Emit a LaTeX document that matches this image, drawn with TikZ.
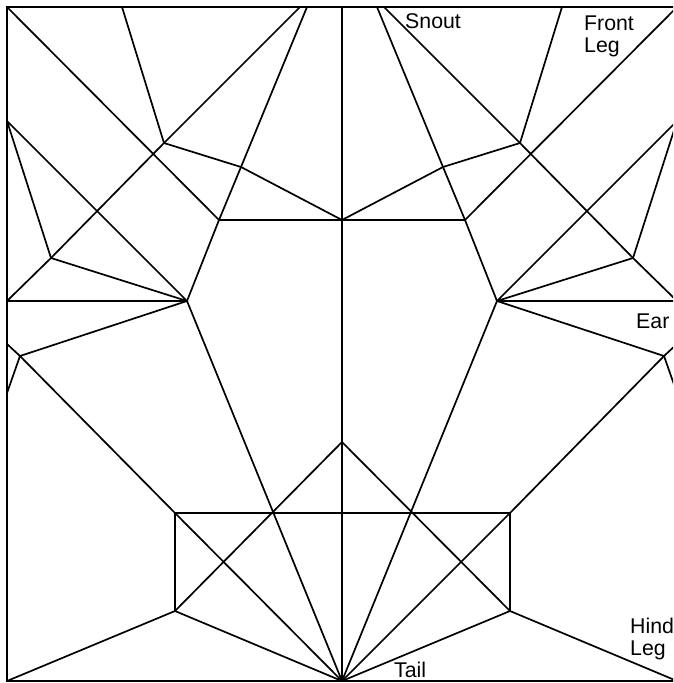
\documentclass[tikz,border=0pt]{standalone}
\usepackage{fontspec}
\setmainfont{Liberation Sans}
\begin{document}
\begin{tikzpicture}[x=1pt,y=-1pt,
  crease/.style={line width=1.7pt,black,line join=round},
  rim/.style={line width=2.2pt,black,line join=miter},
  lbl/.style={font=\fontsize{21.3}{22}\selectfont,align=left,inner sep=0pt,anchor=west}]
  \useasboundingbox (0,0) rectangle (673,683);
  \clip (0,0) rectangle (673,683);
  % sheet corners and the centre line
  \coordinate (tl) at (7,7);
  \coordinate (tr) at (677,7);
  \coordinate (bl) at (7,681);
  \coordinate (br) at (677,681);
  \coordinate (top) at (342,7);
  \coordinate (tail) at (342,681);
  % left half
  \coordinate (ta) at (122,7);
  \coordinate (tb) at (300,7);
  \coordinate (tc) at (307,7);
  \coordinate (la) at (7,121);
  \coordinate (lb) at (7,301);
  \coordinate (lc) at (7,344);
  \coordinate (ld) at (7,393);
  \coordinate (pa) at (164,143);
  \coordinate (pb) at (241,167);
  \coordinate (pc) at (219,220);
  \coordinate (pd) at (51,258);
  \coordinate (pe) at (187,301);
  \coordinate (pf) at (20,356);
  \coordinate (ra) at (175,513);
  \coordinate (rb) at (175,611);
  % right half
  \coordinate (tA) at (562,7);
  \coordinate (tB) at (384,7);
  \coordinate (tC) at (377,7);
  \coordinate (lA) at (677,121);
  \coordinate (lB) at (677,301);
  \coordinate (lC) at (677,344);
  \coordinate (lD) at (677,393);
  \coordinate (pA) at (520,143);
  \coordinate (pB) at (443,167);
  \coordinate (pC) at (465,220);
  \coordinate (pD) at (633,258);
  \coordinate (pE) at (497,301);
  \coordinate (pF) at (664,356);
  \coordinate (rA) at (510,513);
  \coordinate (rB) at (510,611);
  % middle
  \coordinate (mid) at (342,220);
  \coordinate (apex) at (342,442);
  \draw[rim] (br) -- (bl) -- (tl) -- (tr) -- cycle;
  \draw[rim] (top) -- (tail);
  % left creases
  \draw[crease] (tl) -- (pc) -- (mid) -- (pb) -- (pa) -- (ta);
  \draw[crease] (lb) -- (pd) -- (pa) -- (tb);
  \draw[crease] (tc) -- (pb) -- (pc) -- (pe) -- (tail);
  \draw[crease] (la) -- (pe) -- (pd) -- (la);
  \draw[crease] (lb) -- (pe) -- (pf) -- (ra) -- (tail);
  \draw[crease] (lc) -- (pf) -- (ld);
  % right creases
  \draw[crease] (tr) -- (pC) -- (mid) -- (pB) -- (pA) -- (tA);
  \draw[crease] (lB) -- (pD) -- (pA) -- (tB);
  \draw[crease] (tC) -- (pB) -- (pC) -- (pE) -- (tail);
  \draw[crease] (lA) -- (pE) -- (pD) -- (lA);
  \draw[crease] (lB) -- (pE) -- (pF) -- (rA) -- (tail);
  \draw[crease] (lC) -- (pF) -- (lD);
  % tail box
  \draw[crease] (rb) -- (ra) -- (rA) -- (rB);
  \draw[crease] (rb) -- (apex) -- (rB);
  \draw[crease] (bl) -- (rb) -- (tail) -- (rB) -- (br);
  % labels
  \node[lbl] (snout) at (405,21) {Snout};
  \node[lbl] (frontleg) at (584,36) {Front\\Leg};
  \node[lbl] (ear) at (636,321) {Ear};
  \node[lbl] (hindleg) at (630,639) {Hind\\Leg};
  \node[lbl] (taillbl) at (394,670) {Tail};
\end{tikzpicture}
\end{document}
